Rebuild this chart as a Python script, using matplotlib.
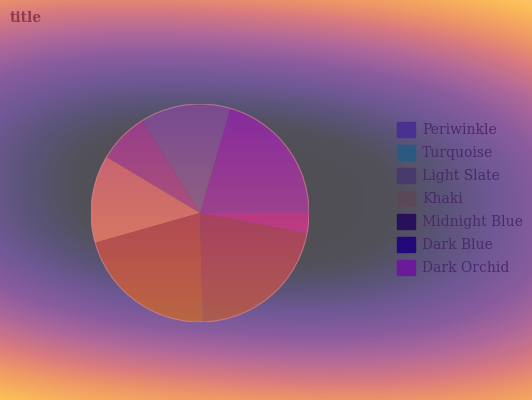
import numpy as np
import matplotlib.pyplot as plt
from matplotlib.colors import LinearSegmentedColormap
from matplotlib.patches import Patch, Circle

labels = ['Periwinkle', 'Turquoise', 'Light Slate', 'Khaki',
          'Midnight Blue', 'Dark Blue', 'Dark Orchid']
values = [20.5, 13.4, 7.5, 13.0, 21.0, 21.6, 3.0]
# colours as they appear in the chart (tinted by the backdrop)
wedge_colors = ['#8a3a98', '#7a6288', '#9c4e80', '#cf7668',
                '#a6464e', '#963a5e', '#b0308a']
legend_colors = ['#4a3090', '#2a5a80', '#483a6a', '#5a4858',
                 '#28105a', '#22087a', '#6a1a9a']

fig = plt.figure(figsize=(5.32, 4.0), dpi=100)

# backdrop: soft, slightly tilted oval gradient
bg = fig.add_axes([0, 0, 1, 1])
bg.set_axis_off()
yy, xx = np.mgrid[0:400, 0:532]
cy = 195 + 0.06 * (xx - 235)
u = np.abs(xx - 235.0) / 520
v = np.abs(yy - cy) / 228
d = (u ** 2.5 + v ** 2.5) ** 0.4
dmax = 1.25
stops = [(0.0, '#4e4e52'), (0.3, '#525058'), (0.4, '#5a5478'),
         (0.5, '#705896'), (0.6, '#8a5c9e'), (0.7, '#b0689a'),
         (0.8, '#d87a80'), (0.88, '#ee9468'), (1.0, '#fbbc58'),
         (1.25, '#fff3a0')]
bg_cmap = LinearSegmentedColormap.from_list(
    'bg', [(p / dmax, c) for p, c in stops])
bg.imshow(d, cmap=bg_cmap, vmin=0, vmax=dmax, aspect='auto',
          interpolation='bilinear')

# pie
r_px, pcx, pcy = 109, 200, 213
ax = fig.add_axes([(pcx - r_px) / 532, (400 - pcy - r_px) / 400,
                   2 * r_px / 532, 2 * r_px / 400])
ax.set_axis_off()
wedges, _ = ax.pie(values, colors=wedge_colors, startangle=0, radius=1,
                   wedgeprops=dict(linewidth=0))
# soft vertical shading across the pie
grad = np.linspace(0, 1, 200)[:, None] * np.ones((1, 200))
shade = ax.imshow(grad, extent=(-1, 1, -1, 1), origin='upper',
                  cmap='plasma', vmin=-0.3, vmax=1.1, alpha=0.22, zorder=3)
shade.set_clip_path(Circle((0, 0), 1, transform=ax.transData))
ax.add_patch(Circle((0, 0), 1, fill=False, ec='#e0909a', lw=0.8,
                    alpha=0.6, zorder=4))
ax.set_xlim(-1, 1)
ax.set_ylim(-1, 1)

handles = [Patch(color=c) for c in legend_colors]
fig.legend(handles, labels, loc='upper left',
           bbox_to_anchor=(397 / 532, 1 - 122 / 400), frameon=False,
           prop=dict(family='DejaVu Serif', size=10), labelcolor='#4a2a6a',
           handlelength=1.3, handleheight=1.3, handletextpad=0.5,
           labelspacing=0.56, borderpad=0, borderaxespad=0)

fig.text(10 / 532, 1 - 22 / 400, 'title', family='DejaVu Serif',
         weight='bold', size=10, color='#8e3a50')

fig.savefig('out.png', dpi=100)
